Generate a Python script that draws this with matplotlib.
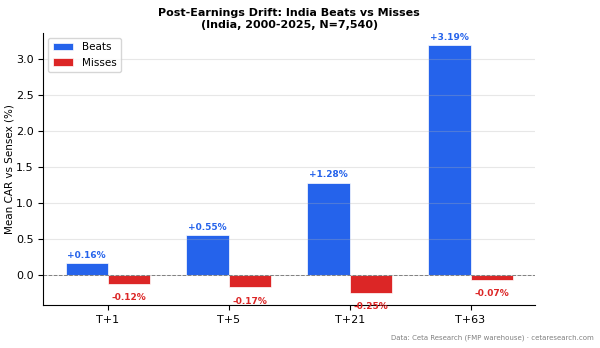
import numpy as np
import matplotlib.pyplot as plt

windows = ["T+1", "T+5", "T+21", "T+63"]
beats = [0.16, 0.55, 1.28, 3.19]
misses = [-0.12, -0.17, -0.25, -0.07]

blue = "#2563eb"
red = "#dc2626"

fig, ax = plt.subplots(figsize=(6, 3.48), dpi=100)
x = np.arange(len(windows))
w = 0.35

ax.bar(x - w / 2, beats, w, color=blue, label="Beats", edgecolor="white", linewidth=0.5)
ax.bar(x + w / 2, misses, w, color=red, label="Misses", edgecolor="white", linewidth=0.5)

for xi, v in zip(x, beats):
    ax.text(xi - w / 2, v + 0.05, f"+{v:.2f}%", ha="center", va="bottom",
            color=blue, fontsize=6.5, fontweight="bold")
for xi, v in zip(x, misses):
    ax.text(xi + w / 2, v - 0.13, f"{v:.2f}%", ha="center", va="top",
            color=red, fontsize=6.5, fontweight="bold")

ax.axhline(0, color="gray", linestyle="--", linewidth=0.7)
ax.set_xticks(x)
ax.set_xticklabels(windows, fontsize=8)
ax.tick_params(axis="y", labelsize=8)
ax.set_ylim(-0.42, 3.36)
ax.set_ylabel("Mean CAR vs Sensex (%)", fontsize=7.5, labelpad=1)
ax.set_title("Post-Earnings Drift: India Beats vs Misses\n(India, 2000-2025, N=7,540)",
             fontsize=8, fontweight="bold", linespacing=1.15, pad=4)
ax.grid(axis="y", alpha=0.3)
ax.spines["top"].set_visible(False)
ax.spines["right"].set_visible(False)
ax.legend(loc="upper left", fontsize=7.5)

fig.text(0.99, 0.02, "Data: Ceta Research (FMP warehouse) \u00b7 cetaresearch.com",
         ha="right", va="bottom", fontsize=5, color="gray")

plt.subplots_adjust(left=0.072, right=0.892, top=0.905, bottom=0.123)
plt.savefig("out.png")
